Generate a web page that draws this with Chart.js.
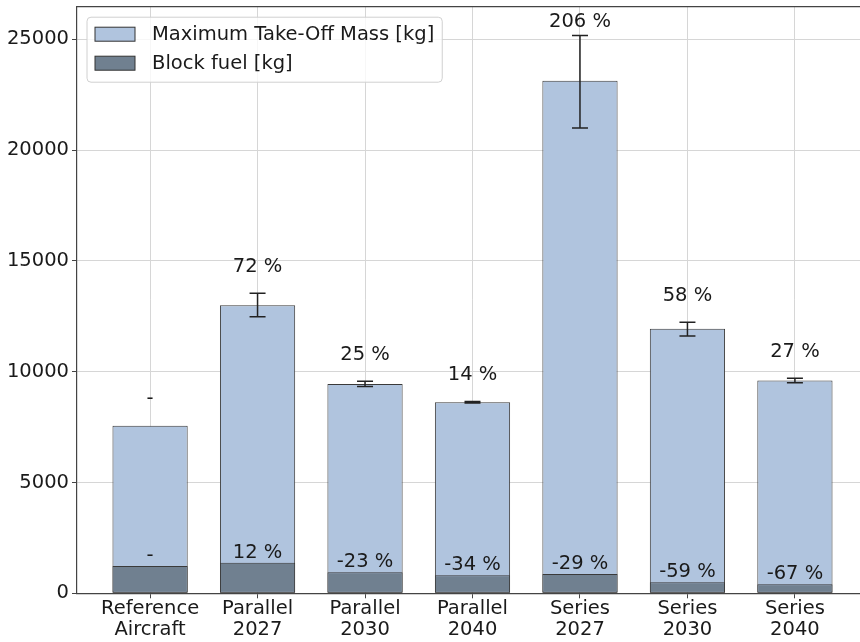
<!DOCTYPE html>
<html>
<head>
<meta charset="utf-8">
<title>MTOM and block fuel</title>
<script src="https://cdn.jsdelivr.net/npm/chart.js@4/dist/chart.umd.min.js"></script>
<style>
  html, body { margin: 0; padding: 0; background: #fff; overflow: hidden; }
  #wrap { position: absolute; left: 0; top: 0; width: 880px; height: 642px; }
</style>
</head>
<body>
<div id="wrap"><canvas id="massChart" width="880" height="642"></canvas></div>
<script>
// Configurations on the x axis (two-line tick labels)
const configs = [
  ["Reference", "Aircraft"],
  ["Parallel", "2027"],
  ["Parallel", "2030"],
  ["Parallel", "2040"],
  ["Series", "2027"],
  ["Series", "2030"],
  ["Series", "2040"],
];

// Maximum take-off mass [kg] and its spread
const mtom = [7560, 13000, 9450, 8620, 23130, 11940, 9600];
const mtomErrUp = [0, 545, 120, 30, 2040, 290, 100];
const mtomErrDown = [0, 520, 120, 30, 2130, 330, 100];

// Block fuel [kg]
const blockFuel = [1230, 1380, 950, 810, 870, 500, 410];

// Change relative to the reference aircraft
const mtomChange = ["-", "72 %", "25 %", "14 %", "206 %", "58 %", "27 %"];
const fuelChange = ["-", "12 %", "-23 %", "-34 %", "-29 %", "-59 %", "-67 %"];

const yTicks = [0, 5000, 10000, 15000, 20000, 25000];

const FONT = "DejaVu Sans";
const FONT_SIZE = 19.5;
const TEXT = "#1a1a1a";
const SPINE = "#444";

// Error bars on the MTOM bars
const errorBars = {
  id: "errorBars",
  afterDatasetsDraw(chart) {
    const { ctx, scales: { x, y } } = chart;
    ctx.save();
    ctx.strokeStyle = "#222";
    ctx.lineWidth = 1.5;
    mtom.forEach((v, i) => {
      if (!mtomErrUp[i] && !mtomErrDown[i]) return;
      const px = x.getPixelForValue(i);
      const top = y.getPixelForValue(v + mtomErrUp[i]);
      const bot = y.getPixelForValue(v - mtomErrDown[i]);
      ctx.beginPath();
      ctx.moveTo(px, top); ctx.lineTo(px, bot);
      ctx.moveTo(px - 8, top); ctx.lineTo(px + 8, top);
      ctx.moveTo(px - 8, bot); ctx.lineTo(px + 8, bot);
      ctx.stroke();
    });
    ctx.restore();
  },
};

// Percent labels above the error bars and above the fuel bars
const changeLabels = {
  id: "changeLabels",
  afterDatasetsDraw(chart) {
    const { ctx, chartArea, scales: { x, y } } = chart;
    ctx.save();
    ctx.font = `${FONT_SIZE}px "${FONT}"`;
    ctx.fillStyle = TEXT;
    ctx.textAlign = "center";
    ctx.textBaseline = "alphabetic";
    mtom.forEach((v, i) => {
      const px = x.getPixelForValue(i);
      const top = y.getPixelForValue(v + mtomErrUp[i]);
      const base = Math.max(top - 21.5, chartArea.top + 20);
      ctx.fillText(mtomChange[i], px, base);
      const fuelTop = y.getPixelForValue(blockFuel[i]);
      ctx.fillText(fuelChange[i], px, fuelTop - 5);
    });
    ctx.restore();
  },
};

// Top spine and the legend box in the upper left corner
const frameAndLegend = {
  id: "frameAndLegend",
  afterDraw(chart) {
    const { ctx, chartArea } = chart;
    ctx.save();
    ctx.strokeStyle = SPINE;
    ctx.lineWidth = 1.2;
    ctx.beginPath();
    ctx.moveTo(chartArea.left, chartArea.top);
    ctx.lineTo(chartArea.right, chartArea.top);
    ctx.stroke();

    ctx.font = `${FONT_SIZE}px "${FONT}"`;
    const items = chart.data.datasets;
    const boxX = chartArea.left + 10, boxY = chartArea.top + 10.5;
    const textX = boxX + 65;
    const textW = Math.max(...items.map(d => ctx.measureText(d.label).width));
    const boxW = textX - boxX + textW + 8;
    const boxH = 65;
    ctx.fillStyle = "rgba(255,255,255,0.8)";
    ctx.strokeStyle = "#d0d0d0";
    ctx.lineWidth = 1;
    ctx.beginPath();
    ctx.roundRect(boxX, boxY, boxW, boxH, 4);
    ctx.fill();
    ctx.stroke();

    items.forEach((d, k) => {
      const cy = boxY + 17 + k * 29;
      ctx.fillStyle = d.backgroundColor;
      ctx.fillRect(boxX + 8, cy - 7, 40, 14);
      ctx.strokeStyle = "#333";
      ctx.strokeRect(boxX + 8, cy - 7, 40, 14);
      ctx.fillStyle = TEXT;
      ctx.textAlign = "left";
      ctx.textBaseline = "middle";
      ctx.fillText(d.label, textX, cy + 1);
    });
    ctx.restore();
  },
};

new Chart(document.getElementById("massChart"), {
  type: "bar",
  data: {
    datasets: [
      {
        label: "Maximum Take-Off Mass [kg]",
        data: mtom.map((v, i) => ({ x: i, y: v })),
        backgroundColor: "#b0c4de",
        borderColor: "#3a3a3a",
        order: 1,
      },
      {
        label: "Block fuel [kg]",
        data: blockFuel.map((v, i) => ({ x: i, y: v })),
        backgroundColor: "#708090",
        borderColor: "#3a3a3a",
        order: 0,
      },
    ],
  },
  options: {
    responsive: false,
    animation: false,
    devicePixelRatio: 1,
    grouped: false,
    barPercentage: 0.7,
    categoryPercentage: 1.0,
    borderWidth: 1,
    borderSkipped: false,
    layout: { padding: { top: 6.7, right: 12, left: 0, bottom: 0 } },
    plugins: {
      legend: { display: false },
      tooltip: { enabled: false },
    },
    scales: {
      x: {
        type: "linear",
        offset: false,
        min: -0.68,
        max: 6.68,
        afterBuildTicks: (axis) => { axis.ticks = configs.map((_, i) => ({ value: i })); },
        afterFit: (axis) => {
          axis.height = 48.7;
          axis.paddingLeft = 0;
          axis.paddingRight = 0;
        },
        grid: { offset: false, color: "#d6d6d6", lineWidth: 1, tickColor: SPINE, tickLength: 5 },
        border: { color: SPINE, width: 1.2 },
        ticks: {
          autoSkip: false,
          maxRotation: 0,
          padding: 0,
          color: TEXT,
          font: { family: FONT, size: FONT_SIZE, lineHeight: 1.08 },
          callback: (v) => configs[v] || "",
        },
      },
      y: {
        min: 0,
        max: 26470,
        afterBuildTicks: (axis) => { axis.ticks = yTicks.map(v => ({ value: v })); },
        afterFit: (axis) => {
          axis.width = 77;
          axis.paddingTop = 0;
          axis.paddingBottom = 0;
        },
        grid: { color: "#d6d6d6", lineWidth: 1, tickColor: SPINE, tickLength: 5 },
        border: { color: SPINE, width: 1.2 },
        ticks: {
          padding: 3,
          color: TEXT,
          font: { family: FONT, size: FONT_SIZE },
          callback: (v) => String(v),
        },
      },
    },
  },
  plugins: [errorBars, changeLabels, frameAndLegend],
});
</script>
</body>
</html>
